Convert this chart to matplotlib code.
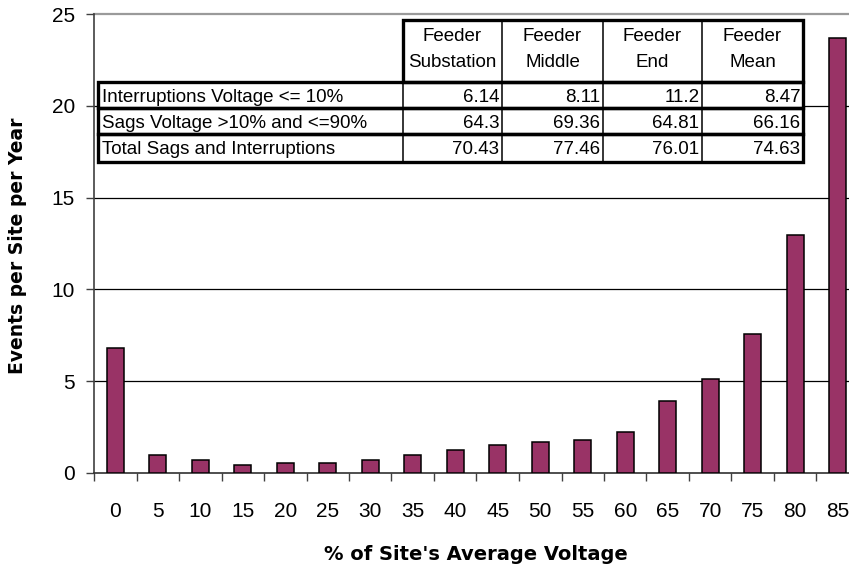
import numpy as np
import matplotlib
matplotlib.use("Agg")
import matplotlib.pyplot as plt
from matplotlib.patches import Rectangle

# ---------------- data ----------------
categories = ["0", "5", "10", "15", "20", "25", "30", "35", "40",
              "45", "50", "55", "60", "65", "70", "75", "80", "85"]
events = [6.83, 1.00, 0.69, 0.45, 0.56, 0.56, 0.69, 1.00, 1.23,
          1.54, 1.67, 1.78, 2.21, 3.93, 5.11, 7.55, 12.96, 23.71]
y_ticks = [0, 5, 10, 15, 20, 25]

table_headers = ["Feeder\nSubstation", "Feeder\nMiddle", "Feeder\nEnd", "Feeder\nMean"]
row_labels = ["Interruptions Voltage <= 10%",
              "Sags Voltage >10% and <=90%",
              "Total Sags and Interruptions"]
row_interruptions = ["6.14", "8.11", "11.2", "8.47"]
row_sags = ["64.3", "69.36", "64.81", "66.16"]
row_total = ["70.43", "77.46", "76.01", "74.63"]
table_rows = [row_interruptions, row_sags, row_total]

# ---------------- figure ----------------
W, H = 849, 570
fig = plt.figure(figsize=(W / 100, H / 100), dpi=100)
fig.patch.set_facecolor("white")

x_left, x_right = 94, 859
y_top, y_bot = 14, 473
ax = fig.add_axes([x_left / W, 1 - y_bot / H, (x_right - x_left) / W, (y_bot - y_top) / H])

x = np.arange(len(categories))
ax.bar(x, events, width=0.4, color="#993366", edgecolor="black", linewidth=1.1, zorder=3)

ax.set_xlim(-0.5, len(categories) - 0.5)
ax.set_ylim(0, 25)

# gridlines
for v in y_ticks[1:]:
    if v == y_ticks[-1]:
        ax.axhline(v, color="#9a9a9a", lw=1.6, zorder=1, clip_on=False)
    else:
        ax.axhline(v, color="black", lw=0.9, zorder=1)

for s in ["top", "right"]:
    ax.spines[s].set_visible(False)
ax.spines["left"].set_color("#404040")
ax.spines["left"].set_linewidth(1.2)
ax.spines["bottom"].set_color("#303030")
ax.spines["bottom"].set_linewidth(1.2)

tick_font = dict(family="Liberation Sans", size=15)
ax.set_yticks(y_ticks)
ax.set_yticklabels([str(v) for v in y_ticks], fontdict=tick_font)
ax.tick_params(axis="y", direction="out", length=5.8, width=1.0, color="#404040", pad=8)

ax.set_xticks(x)
ax.set_xticklabels(categories, fontdict=tick_font)
ax.set_xticks(np.arange(-0.5, len(categories), 1.0), minor=True)
ax.tick_params(axis="x", which="major", length=0, pad=21)
ax.tick_params(axis="x", which="minor", direction="out", length=5.8, width=1.0, color="#404040")

fig.text(476 / W, 1 - 560 / H, "% of Site's Average Voltage", ha="center", va="baseline",
         family="DejaVu Sans", fontweight="bold", fontsize=14)
fig.text(17.5 / W, 1 - 246 / H, "Events per Site per Year", ha="center", va="center",
         rotation=90, family="DejaVu Sans", fontweight="bold", fontsize=13.5)

# ---------------- table overlay (pixel coordinates) ----------------
ov = fig.add_axes([0, 0, 1, 1], zorder=5)
ov.set_xlim(0, W)
ov.set_ylim(H, 0)
ov.axis("off")
ov.patch.set_alpha(0)

xb = [98.5, 403, 502, 603, 702, 803]
hy0, hy1 = 20, 81.5
ry = [81.5, 108, 134, 161.5]
thick, thin = 2.4, 1.1
tfont = dict(family="Liberation Sans", size=13.5)

# white fills
ov.add_patch(Rectangle((xb[1], hy0), xb[-1] - xb[1], hy1 - hy0, facecolor="white", edgecolor="none"))
ov.add_patch(Rectangle((xb[0], ry[0]), xb[-1] - xb[0], ry[-1] - ry[0], facecolor="white", edgecolor="none"))

# header borders
ov.add_patch(Rectangle((xb[1], hy0), xb[-1] - xb[1], hy1 - hy0, fill=False, edgecolor="black", lw=thick))
for xv in xb[2:-1]:
    ov.plot([xv, xv], [hy0, hy1], color="black", lw=thin)
# row borders
for i in range(3):
    ov.add_patch(Rectangle((xb[0], ry[i]), xb[-1] - xb[0], ry[i + 1] - ry[i], fill=False,
                           edgecolor="black", lw=thick))
    for xv in xb[1:-1]:
        ov.plot([xv, xv], [ry[i], ry[i + 1]], color="black", lw=thin)

# header text
for j, htxt in enumerate(table_headers):
    cx = (xb[j + 1] + xb[j + 2]) / 2
    l1, l2 = htxt.split("\n")
    ov.text(cx, 41, l1, ha="center", va="baseline", **tfont)
    ov.text(cx, 67, l2, ha="center", va="baseline", **tfont)

baselines = [102.5, 128, 154]
for i, (lab, vals) in enumerate(zip(row_labels, table_rows)):
    ov.text(102, baselines[i], lab, ha="left", va="baseline", **tfont)
    for j, v in enumerate(vals):
        ov.text(xb[j + 2] - 2.5, baselines[i], v, ha="right", va="baseline", **tfont)

fig.savefig("out.png", dpi=100)
